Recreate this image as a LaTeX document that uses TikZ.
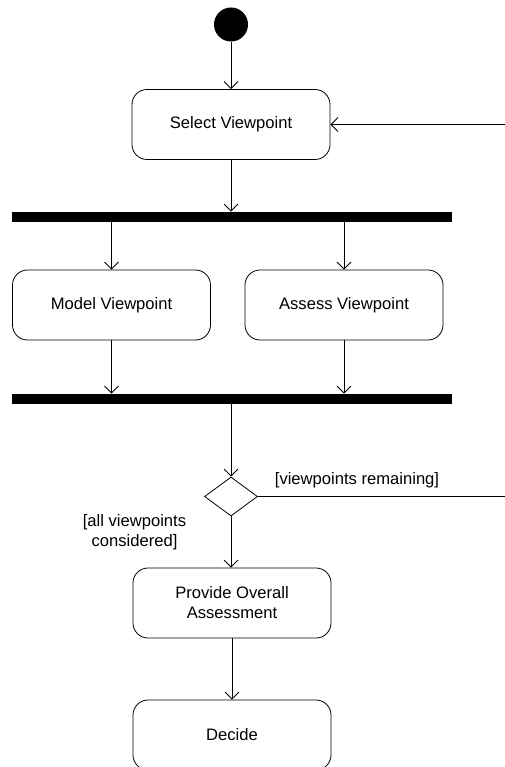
\documentclass[tikz,border=0pt]{standalone}
\usepackage{fontspec}
\setmainfont{Liberation Sans}
\usetikzlibrary{arrows.meta,shapes.geometric}
\begin{document}
\begin{tikzpicture}[x=1pt,y=-1pt,
  font=\fontsize{16.6}{20}\selectfont,
  line width=0.8pt,
  action/.style={draw, rounded corners=15pt, minimum width=198pt, minimum height=70pt, inner sep=0pt, align=center},
  bar/.style={fill=black, draw=none, minimum width=440pt, minimum height=10pt, inner sep=0pt},
  flow/.style={-{Straight Barb[length=7pt,width=14pt]}},
  guard/.style={inner sep=0pt, align=center}]
\useasboundingbox (0,0) rectangle (505,767);
\begin{scope}
\clip (0,0) rectangle (505,767);
% initial node
\node[circle, fill=black, minimum size=34pt, inner sep=0pt] (start) at (231,24.5) {};
% actions
\node[action] (select) at (231,124.5) {Select Viewpoint};
\node[bar] (fork) at (232,217) {};
\node[action] (model) at (111.5,305) {Model Viewpoint};
\node[action] (assess) at (344,305) {Assess Viewpoint};
\node[bar] (join) at (232,399) {};
\node[diamond, draw, minimum width=53pt, minimum height=39pt, inner sep=0pt] (choice) at (231,496.5) {};
\node[action] (overall) at (232,603) {Provide Overall\\Assessment};
\node[action] (decide) at (232,735) {Decide};
% guards
\node[guard] (remain) at (357,480) {[viewpoints remaining]};
\node[guard] (allcons) at (134.5,532) {[all viewpoints\\considered]};
% loop-back ends at the right margin
\coordinate (loopin) at (505,124.5);
\coordinate (loopout) at (505,496.5);
% connectors
\draw[flow] (start) -- (select);
\draw[flow] (loopin) -- (select.east);
\draw[flow] (select.south) -- (select.south |- fork.north);
\draw[flow] (model.north |- fork.south) -- (model.north);
\draw[flow] (assess.north |- fork.south) -- (assess.north);
\draw[flow] (model.south) -- (model.south |- join.north);
\draw[flow] (assess.south) -- (assess.south |- join.north);
\draw[flow] (choice.north |- join.south) -- (choice.north);
\draw (choice.east) -- (loopout);
\draw[flow] (choice.south) -- (choice.south |- overall.north);
\draw[flow] (overall.south) -- (decide.north);
\end{scope}
\end{tikzpicture}
\end{document}
